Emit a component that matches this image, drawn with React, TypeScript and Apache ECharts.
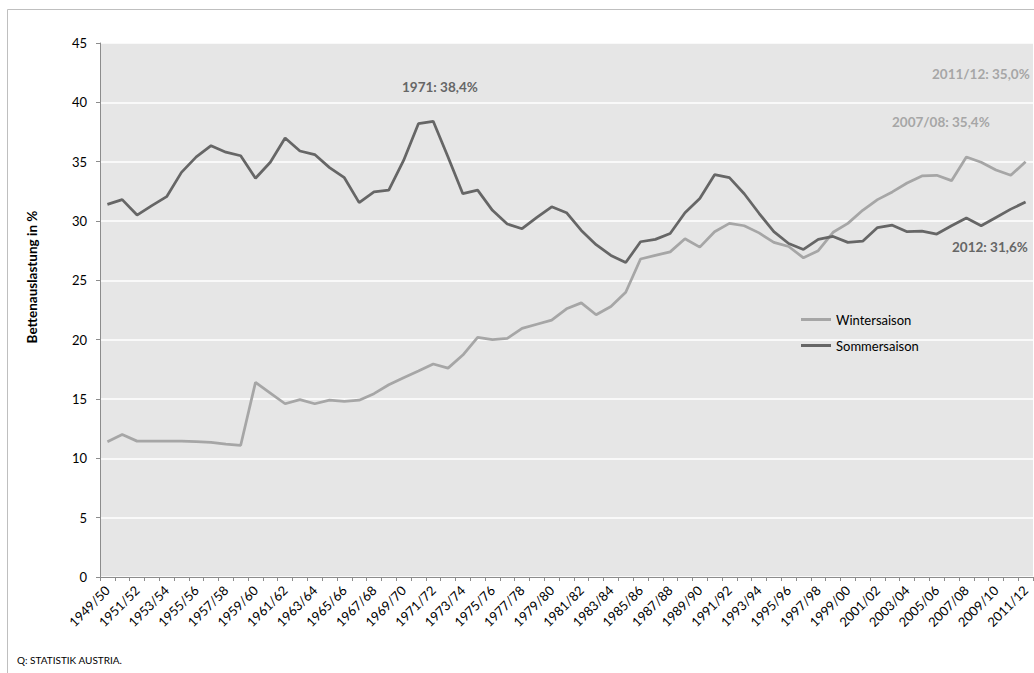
import React, { useEffect, useRef } from "react";
import * as echarts from "echarts";

const categories = [
  "1949/50", "1950/51", "1951/52", "1952/53", "1953/54", "1954/55", "1955/56", "1956/57", "1957/58", "1958/59",
  "1959/60", "1960/61", "1961/62", "1962/63", "1963/64", "1964/65", "1965/66", "1966/67", "1967/68", "1968/69",
  "1969/70", "1970/71", "1971/72", "1972/73", "1973/74", "1974/75", "1975/76", "1976/77", "1977/78", "1978/79",
  "1979/80", "1980/81", "1981/82", "1982/83", "1983/84", "1984/85", "1985/86", "1986/87", "1987/88", "1988/89",
  "1989/90", "1990/91", "1991/92", "1992/93", "1993/94", "1994/95", "1995/96", "1996/97", "1997/98", "1998/99",
  "1999/00", "2000/01", "2001/02", "2002/03", "2003/04", "2004/05", "2005/06", "2006/07", "2007/08", "2008/09",
  "2009/10", "2010/11", "2011/12",
];

const winterValues = [
  11.4, 12.0, 11.45, 11.45, 11.45, 11.45, 11.4, 11.35, 11.2, 11.1,
  16.4, 15.5, 14.6, 14.95, 14.6, 14.9, 14.8, 14.9, 15.45, 16.2,
  16.8, 17.35, 17.95, 17.6, 18.7, 20.2, 20.0, 20.1, 20.95, 21.3,
  21.65, 22.6, 23.1, 22.1, 22.8, 24.0, 26.8, 27.1, 27.4, 28.5,
  27.8, 29.1, 29.8, 29.6, 29.0, 28.2, 27.85, 26.9, 27.5, 29.05,
  29.8, 30.9, 31.8, 32.45, 33.2, 33.8, 33.85, 33.4, 35.4, 34.95,
  34.3, 33.85, 35.0,
];

const summerValues = [
  31.4, 31.8, 30.5, 31.3, 32.05, 34.1, 35.4, 36.35, 35.8, 35.5,
  33.6, 34.95, 37.0, 35.9, 35.6, 34.5, 33.65, 31.55, 32.45, 32.6,
  35.1, 38.2, 38.4, 35.4, 32.3, 32.6, 30.9, 29.75, 29.35, 30.3,
  31.2, 30.7, 29.2, 28.0, 27.1, 26.5, 28.25, 28.45, 28.95, 30.7,
  31.9, 33.9, 33.65, 32.3, 30.65, 29.1, 28.1, 27.6, 28.45, 28.7,
  28.2, 28.3, 29.45, 29.65, 29.1, 29.15, 28.9, 29.6, 30.25, 29.6,
  30.3, 31.0, 31.6,
];

const seriesNames = ["Wintersaison", "Sommersaison"];
const annotations = [
  { text: "1971: 38,4%", x: 402, y: 87, color: "#666666" },
  { text: "2011/12: 35,0%", x: 932, y: 74, color: "#a6a6a6" },
  { text: "2007/08: 35,4%", x: 892, y: 122, color: "#a6a6a6" },
  { text: "2012: 31,6%", x: 952, y: 247, color: "#666666" },
];
const yAxisTitle = "Bettenauslastung in %";
const sourceNote = "Q: STATISTIK AUSTRIA.";

const FONT = "Lato, 'Open Sans', sans-serif";
const WINTER = "#a6a6a6";
const SUMMER = "#666666";

export default function App() {
  const ref = useRef<HTMLDivElement>(null);
  useEffect(() => {
    if (!ref.current) return;
    const chart = echarts.init(ref.current, undefined, { renderer: "svg" });
    chart.setOption({
      animation: false,
      backgroundColor: "#ffffff",
      textStyle: { fontFamily: FONT },
      grid: {
        left: 100,
        top: 43,
        right: 1,
        bottom: 96,
        show: true,
        backgroundColor: "#e6e6e6",
        borderWidth: 0,
      },
      legend: {
        orient: "vertical",
        left: 796,
        top: 308,
        itemWidth: 30,
        itemHeight: 3,
        itemGap: 13,
        icon: "rect",
        textStyle: { color: "#000000", fontSize: 13, fontFamily: FONT },
        data: seriesNames,
      },
      xAxis: {
        type: "category",
        data: categories,
        boundaryGap: true,
        axisLine: { lineStyle: { color: "#8c8c8c", width: 1 } },
        axisTick: { show: true, interval: 0, length: 4, lineStyle: { color: "#8c8c8c" } },
        axisLabel: {
          interval: 1,
          rotate: 45,
          fontSize: 13,
          color: "#000000",
          margin: 11,
          fontFamily: FONT,
        },
        splitLine: { show: false },
      },
      yAxis: {
        type: "value",
        min: 0,
        max: 45,
        interval: 5,
        axisLine: { show: true, lineStyle: { color: "#8c8c8c", width: 1 } },
        axisTick: { show: true, length: 4, lineStyle: { color: "#8c8c8c" } },
        axisLabel: { fontSize: 13, color: "#000000", margin: 13, fontFamily: FONT },
        splitLine: { show: true, lineStyle: { color: "#ffffff", width: 1.5 } },
      },
      series: [
        {
          name: seriesNames[0],
          type: "line",
          data: winterValues,
          symbol: "none",
          lineStyle: { color: WINTER, width: 2.75 },
          itemStyle: { color: WINTER },
        },
        {
          name: seriesNames[1],
          type: "line",
          data: summerValues,
          symbol: "none",
          lineStyle: { color: SUMMER, width: 2.75 },
          itemStyle: { color: SUMMER },
        },
      ],
      graphic: [
        {
          type: "rect",
          silent: true,
          z: -10,
          shape: { x: 7.5, y: 9.5, width: 1100, height: 800 },
          style: { fill: "none", stroke: "#bfbfbf", lineWidth: 1 },
        },
        {
          type: "text",
          x: 32,
          y: 277,
          rotation: Math.PI / 2,
          style: {
            text: yAxisTitle,
            fontSize: 13.5,
            fontWeight: "bold",
            fontFamily: FONT,
            fill: "#000000",
            align: "center",
            verticalAlign: "middle",
          },
        },
        {
          type: "text",
          x: 17,
          y: 660,
          style: {
            text: sourceNote,
            fontSize: 10,
            fontFamily: FONT,
            fill: "#000000",
            align: "left",
            verticalAlign: "middle",
          },
        },
        ...annotations.map((a) => ({
          type: "text",
          x: a.x,
          y: a.y,
          z: 100,
          style: {
            text: a.text,
            fontSize: 13.5,
            fontWeight: "bold",
            fontFamily: FONT,
            fill: a.color,
            align: "left",
            verticalAlign: "middle",
          },
        })),
      ],
    });
    return () => chart.dispose();
  }, []);
  return (
    <div
      ref={ref}
      style={{ position: "absolute", left: 0, top: 0, width: 1034, height: 673, background: "#fff" }}
    />
  );
}
